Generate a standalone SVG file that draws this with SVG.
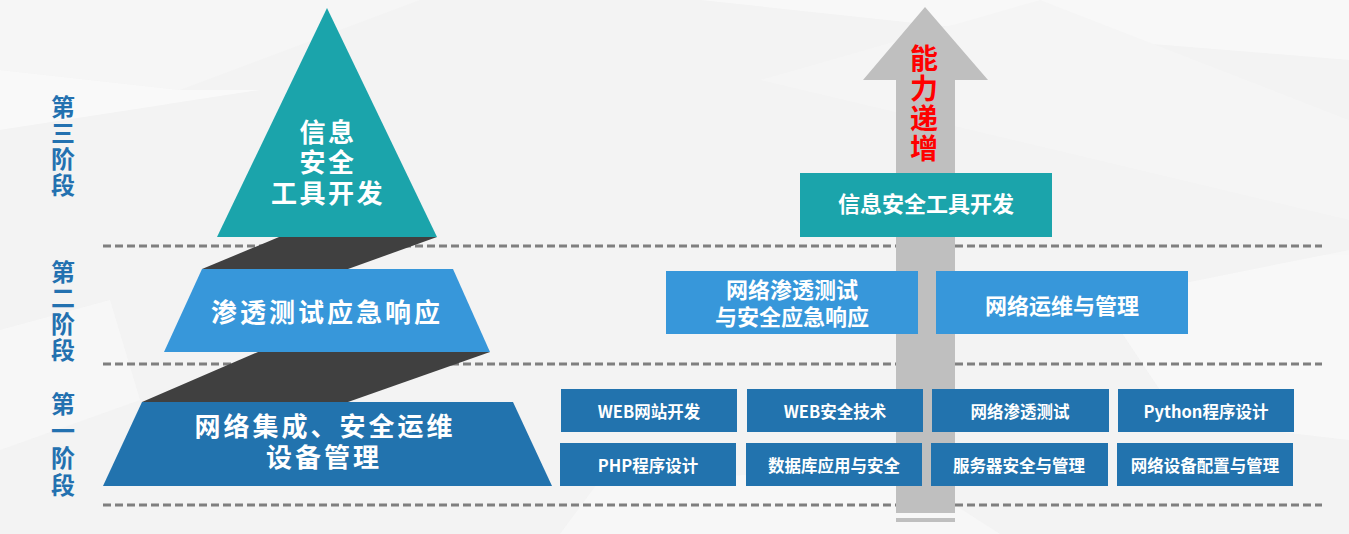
<svg xmlns="http://www.w3.org/2000/svg" width="1349" height="534" viewBox="0 0 1349 534">
<style>
text{font-family:"Noto Sans CJK SC","Noto Sans",sans-serif;font-weight:bold;dominant-baseline:central;text-anchor:middle}
.ml{font-family:"Liberation Sans","Noto Sans CJK SC",sans-serif}
.w{fill:#ffffff}
.stage{fill:#2371b0;font-size:24px;writing-mode:vertical-rl;text-anchor:start;letter-spacing:2px}
.vred{fill:#ff0000;font-size:28px;writing-mode:vertical-rl;text-anchor:start;letter-spacing:2px}
.dash{stroke:#7f7f7f;stroke-width:3;stroke-dasharray:8 4;fill:none}
.dark{fill:#404040}
.teal{fill:#1ba4ab}
.lb{fill:#3797da}
.db{fill:#2273ae}
.tri{font-size:26px;letter-spacing:2.5px}
.pyr{font-size:26px;letter-spacing:3px}
.mid{font-size:22px}
.sm{font-size:16.5px}
</style>
<rect x="0" y="0" width="1349" height="534" fill="#f3f3f3"/>
<g id="background" opacity="0.9">
<polygon points="0,0 420,0 180,90 0,70" fill="#f7f7f7"/>
<polygon points="0,70 180,90 260,90 0,130" fill="#fafafa"/>
<polygon points="700,0 1349,0 1349,60 980,30" fill="#f9f9f9"/>
<polygon points="760,80 1040,0 1349,120 1349,220" fill="#f6f6f6"/>
<polygon points="1100,300 1349,250 1349,440 1180,420" fill="#f8f8f8"/>
<polygon points="0,330 110,300 140,400 0,450" fill="#f7f7f7"/>
<polygon points="600,480 900,470 1000,534 560,534" fill="#f7f7f7"/>
</g>
<g id="connectors">
<line class="dash" x1="103" y1="246" x2="1322" y2="246"/>
<line class="dash" x1="103" y1="364" x2="1322" y2="364"/>
<line class="dash" x1="103" y1="505" x2="1322" y2="505"/>
</g>
<g id="stage-labels">
<text class="stage" x="63" y="95">第三阶段</text>
<text class="stage" x="63" y="260">第二阶段</text>
<text class="stage" x="63" y="392" style="letter-spacing:3px">第一阶段</text>
</g>
<g id="pyramid-shadows">
<polygon class="dark" points="279,237 437,237 348,269 202,269"/>
<polygon class="dark" points="258,352 490,352 348,402 142,402"/>
</g>
<g id="stage3-triangle">
<polygon class="teal" points="327,8 437,237 217,237"/>
<text class="w tri ml" x="328" y="133">信息</text>
<text class="w tri ml" x="328" y="163">安全</text>
<text class="w tri ml" x="328" y="194">工具开发</text>
</g>
<g id="stage2-trapezoid">
<polygon class="lb" points="202,269 453,269 490,352 164,352"/>
<text class="w pyr" x="327" y="310">渗透测试应急响应</text>
</g>
<g id="stage1-trapezoid">
<polygon class="db" points="142,402 513,402 552,486 103,486"/>
<text class="w pyr ml" x="325" y="427">网络集成、安全运维</text>
<text class="w pyr ml" x="324" y="458">设备管理</text>
</g>
<g id="arrow">
<polygon fill="#bfbfbf" points="925,7 988,80 955,80 955,513 896,513 896,80 863,80"/>
<rect x="896" y="518" width="59" height="4" fill="#bfbfbf"/>
<text class="vred" x="924" y="44">能力递增</text>
</g>
<g id="box-tools">
<rect class="teal" x="800" y="173" width="252" height="64"/>
<text class="w mid" x="926" y="202">信息安全工具开发</text>
</g>
<g id="box-pentest">
<rect class="lb" x="666" y="271" width="252" height="63"/>
<text class="w mid ml" x="792" y="290">网络渗透测试</text>
<text class="w mid ml" x="792" y="317">与安全应急响应</text>
</g>
<g id="box-ops">
<rect class="lb" x="936" y="271" width="252" height="63"/>
<text class="w mid" x="1062" y="304">网络运维与管理</text>
</g>
<g id="box-web">
<rect class="db" x="561" y="389" width="176" height="43"/>
<text class="w sm" x="649" y="411">WEB网站开发</text>
</g>
<g id="box-websec">
<rect class="db" x="747" y="389" width="176" height="43"/>
<text class="w sm" x="835" y="411">WEB安全技术</text>
</g>
<g id="box-pen">
<rect class="db" x="932" y="389" width="177" height="43"/>
<text class="w sm" x="1020" y="411">网络渗透测试</text>
</g>
<g id="box-python">
<rect class="db" x="1118" y="389" width="176" height="43"/>
<text class="w sm" x="1206" y="411">Python程序设计</text>
</g>
<g id="box-php">
<rect class="db" x="560" y="443" width="176" height="43"/>
<text class="w sm" x="648" y="465">PHP程序设计</text>
</g>
<g id="box-db">
<rect class="db" x="746" y="443" width="176" height="43"/>
<text class="w sm" x="834" y="465">数据库应用与安全</text>
</g>
<g id="box-server">
<rect class="db" x="931" y="443" width="177" height="43"/>
<text class="w sm" x="1019" y="465">服务器安全与管理</text>
</g>
<g id="box-netdev">
<rect class="db" x="1117" y="443" width="176" height="43"/>
<text class="w sm" x="1205" y="465">网络设备配置与管理</text>
</g>
</svg>
